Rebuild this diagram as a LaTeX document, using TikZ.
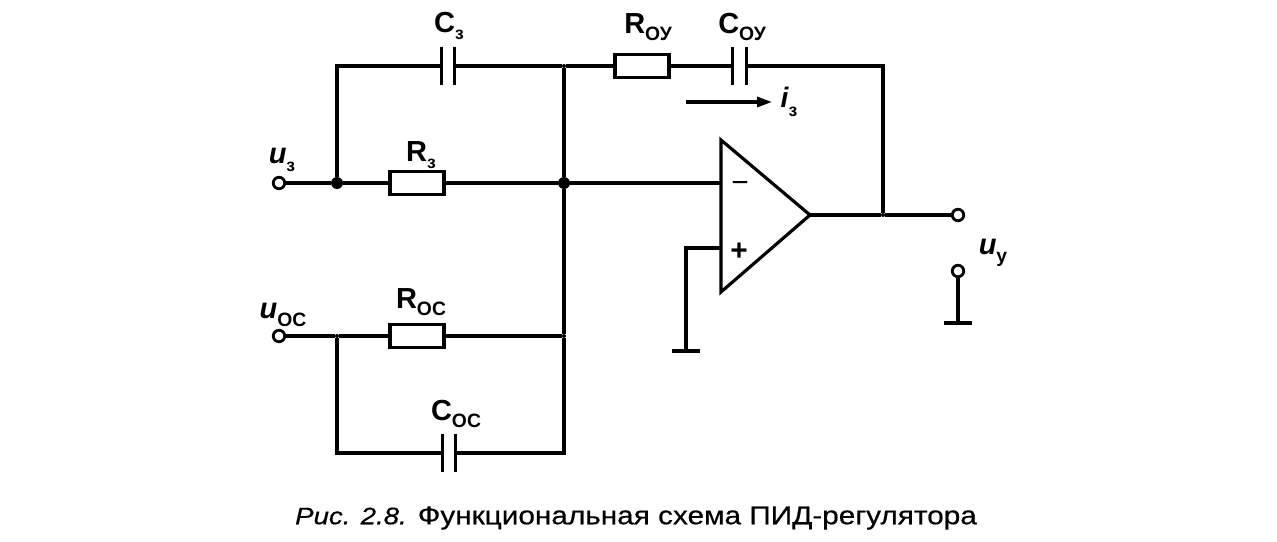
\documentclass[tikz,border=0pt]{standalone}
\usepackage{fontspec}
\setmainfont{Liberation Sans}
\newfontfamily\capfont[FakeStretch=1.156,FakeBold=0.5]{Liberation Sans}
\usetikzlibrary{positioning}
\usetikzlibrary{arrows.meta}
\newcommand{\lbl}[3]{{\fontsize{16.5}{18}\selectfont #1}\raisebox{-0.8ex}{\fontsize{#3}{12}\selectfont #2}}
\tikzset{
    wire/.style = {-,line width=1.8pt,black},
    resnode/.style = {rectangle, line width=1.8pt, draw=black, minimum width=1.08cm, minimum height=0.46cm, inner sep=0pt},
    capnode/.style = {rectangle, minimum width=0.26cm, minimum height=0.76cm, inner sep=0pt},
    termnode/.style = {circle, line width=1.6pt, draw=black, fill=white, minimum size=0.23cm, inner sep=0pt},
    dotnode/.style = {circle, fill=black, minimum size=0.24cm, inner sep=0pt},
    smalldot/.style = {circle, fill=black, minimum size=0.08cm, inner sep=0pt},
    gndnode/.style = {rectangle, minimum width=0.54cm, minimum height=0pt, inner sep=0pt},
    mylabel/.style = {inner sep=0pt, text=black, font=\bfseries},
}
\begin{document}
\begin{tikzpicture}[x=0.02cm,y=-0.02cm]
\path[use as bounding box] (0,0) rectangle (1277,541);
% terminals and junctions
\node[termnode] at (279,183) (Uz) {};
\node[termnode] at (279,336) (Uoc) {};
\node[termnode] at (958,215) (Uy1) {};
\node[termnode] at (958,271) (Uy2) {};
\node[dotnode] at (337,183) (J1) {};
\node[dotnode] at (564,183) (J2) {};
\node[smalldot] at (337,336) (J3) {};
\node[smalldot] at (564,336) (J4) {};
\node[smalldot] at (564,66) (J5) {};
\node[smalldot] at (883,215) (J6) {};
\coordinate (TL) at (337,66);
\coordinate (TR) at (883,66);
\coordinate (BL) at (337,453);
\coordinate (BR) at (564,453);
% elements
\node[resnode] at (417,183) (Rz) {};
\node[resnode] at (642,66) (Roy) {};
\node[resnode] at (417,336) (Roc) {};
\node[capnode] at (448,66) (Cz) {};
\node[capnode] at (739.5,66) (Coy) {};
\node[capnode] at (449,453) (Coc) {};
% op amp
\coordinate (A1) at (721,140);
\coordinate (A2) at (721,292);
\coordinate (A3) at (810,215);
\coordinate (Inm) at (721,183);
\coordinate (Inp) at (721,248);
\coordinate (Bend) at (686,248);
\node[gndnode] at (686,351) (G1) {};
\node[gndnode] at (958,323) (G2) {};
\draw[wire,line join=miter] (A1) -- (A2) -- (A3) -- cycle;
%
\draw[wire] (Uz) -- (J1) -- (Rz) -- (J2) -- (Inm);
\draw[wire] (J1) -- (TL) -- (Cz.west);
\draw[wire] (Cz.east) -- (J5) -- (Roy) -- (Coy.west);
\draw[wire] (Coy.east) -- (TR) -- (J6);
\draw[wire] (A3) -- (J6) -- (Uy1);
\draw[wire] (Uoc) -- (J3) -- (Roc) -- (J4);
\draw[wire] (J3) -- (BL) -- (Coc.west);
\draw[wire] (Coc.east) -- (BR) -- (J4) -- (J2) -- (J5);
\draw[wire] (Inp) -- (Bend) -- (G1.center);
\draw[wire] (G1.west) -- (G1.east);
\draw[wire] (Uy2) -- (G2.center);
\draw[wire] (G2.west) -- (G2.east);
% capacitor plates
\foreach \c in {Cz,Coy,Coc}{
\draw[wire] (\c.north west) -- (\c.south west);
\draw[wire] (\c.north east) -- (\c.south east);
}
% current arrow
\coordinate (Ia) at (686,102);
\coordinate (Ib) at (772,102);
\draw[wire,-{Triangle[length=0.3cm,width=0.2cm]}] (Ia) -- (Ib);
\node[mylabel,font=\bfseries\itshape\fontsize{16}{18}\selectfont] at (789,102) (Iz) {i\raisebox{-0.6ex}{\fontsize{10}{12}\selectfont\upshape з}};
% labels
\node[mylabel] at (449,26) (LCz) {\lbl{C}{з}{10}};
\node[mylabel] at (421,155) (LRz) {\lbl{R}{з}{10}};
\node[mylabel] at (648,27) (LRoy) {\lbl{R}{ОУ}{11}};
\node[mylabel] at (742,27) (LCoy) {\lbl{C}{ОУ}{11}};
\node[mylabel] at (421,302) (LRoc) {\lbl{R}{ОС}{11}};
\node[mylabel] at (456,414) (LCoc) {\lbl{C}{ОС}{11}};
\node[mylabel,font=\bfseries\itshape] at (282,160) (Lu1) {\lbl{u}{\upshape з}{10}};
\node[mylabel,font=\bfseries\itshape] at (283,315) (Lu2) {\lbl{u}{\upshape ОС}{11}};
\node[mylabel,font=\bfseries\itshape] at (993,253) (Lu3) {\lbl{u}{\upshape у}{11}};
\node[inner sep=0pt,font=\fontsize{17}{18}\selectfont] at (740,187) (Lm) {\textminus};
\node[inner sep=0pt,font=\bfseries\fontsize{17}{18}\selectfont] at (739,252) (Lp) {+};
% caption
\node[inner sep=0pt,font=\capfont\fontsize{14.65}{18}\selectfont] at (636,518) (Cap) {{\fontsize{13.6}{18}\selectfont\textit{Рис. 2.8.}} Функциональная схема ПИД-регулятора};
\end{tikzpicture}
\end{document}
